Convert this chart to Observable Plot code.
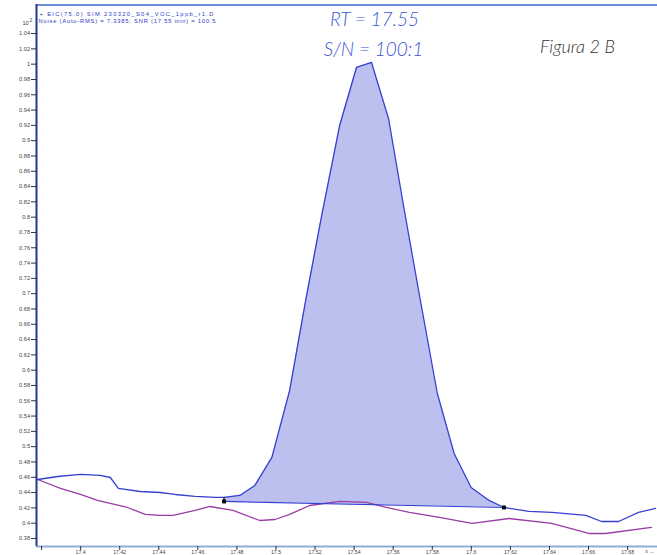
<!DOCTYPE html>
<html>
<head>
<meta charset="utf-8">
<script src="https://cdn.jsdelivr.net/npm/d3@7"></script>
<script src="https://cdn.jsdelivr.net/npm/@observablehq/plot@0.6"></script>
<style>
  html, body { margin: 0; padding: 0; background: #fff; }
  #chart { position: relative; width: 657px; height: 555px; overflow: hidden; }
  #chart svg { display: block; }
</style>
</head>
<body>
<div id="chart"></div>
<script>
// ---- data ----
const blueX = [17.378, 17.3882, 17.3999, 17.4101, 17.4152, 17.4193, 17.4305, 17.4407, 17.4484, 17.4586, 17.4688, 17.4734, 17.4815, 17.4892, 17.4979, 17.5070, 17.5152, 17.5234, 17.5326, 17.5412, 17.5489, 17.5576, 17.5657, 17.5739, 17.5826, 17.5912, 17.5999, 17.6091, 17.6167, 17.6295, 17.6412, 17.6586, 17.6667, 17.6754, 17.6856, 17.6943];
const blueY = [0.4571, 0.4610, 0.4637, 0.4624, 0.4597, 0.4454, 0.4414, 0.4401, 0.4375, 0.4349, 0.4336, 0.4336, 0.4362, 0.4493, 0.4859, 0.5735, 0.6911, 0.8022, 0.9199, 0.9957, 1.0022, 0.9290, 0.8088, 0.6911, 0.5695, 0.4911, 0.4467, 0.4297, 0.4205, 0.4153, 0.4140, 0.4101, 0.4022, 0.4022, 0.4140, 0.4192];
const purpleX = [17.378, 17.3897, 17.3999, 17.4086, 17.4239, 17.4331, 17.4407, 17.4473, 17.4586, 17.4662, 17.4780, 17.4917, 17.4994, 17.5070, 17.5172, 17.5326, 17.5463, 17.5565, 17.5683, 17.5836, 17.6004, 17.6193, 17.6412, 17.6601, 17.6688, 17.6922];
const purpleY = [0.4571, 0.4454, 0.4375, 0.4297, 0.4205, 0.4114, 0.4101, 0.4101, 0.4166, 0.4218, 0.4166, 0.4035, 0.4048, 0.4114, 0.4231, 0.4284, 0.4271, 0.4205, 0.4140, 0.4075, 0.3996, 0.4061, 0.3996, 0.3865, 0.3865, 0.3944];
const baselineX = [17.4734, 17.6167];
const baselineY = [0.4284, 0.4205];
const yTicks = [0.38,0.40,0.42,0.44,0.46,0.48,0.50,0.52,0.54,0.56,0.58,0.60,0.62,0.64,0.66,0.68,0.70,0.72,0.74,0.76,0.78,0.80,0.82,0.84,0.86,0.88,0.90,0.92,0.94,0.96,0.98,1.00,1.02,1.04];
const xTicks = [17.38,17.40,17.42,17.44,17.46,17.48,17.50,17.52,17.54,17.56,17.58,17.60,17.62,17.64,17.66,17.68];
const xTickLabels = ["","17.4","17.42","17.44","17.46","17.48","17.5","17.52","17.54","17.56","17.58","17.6","17.62","17.64","17.66","17.68"];
const headerLine1 = "+ EIC(75.0) SIM 230320_S04_VOC_1ppb_r1.D";
const headerLine2 = "Noise (Auto-RMS) = 7.3385; SNR (17.55 min) = 100.5";
const rtLabel = "RT = 17.55";
const snLabel = "S/N = 100:1";
const figLabel = "Figura 2 B";
const expBase = "10";
const expSup = "2";

// ---- derived tables ----
const blue = blueX.map((x, i) => ({x, y: blueY[i]}));
const purple = purpleX.map((x, i) => ({x, y: purpleY[i]}));
const base = baselineX.map((x, i) => ({x, y: baselineY[i]}));
const baseAt = x => baselineY[0] + (baselineY[1] - baselineY[0]) * (x - baselineX[0]) / (baselineX[1] - baselineX[0]);
const peak = blue.filter(d => d.x >= baselineX[0] - 1e-9 && d.x <= baselineX[1] + 1e-9).map(d => ({x: d.x, y1: baseAt(d.x), y2: d.y}));
const xDomain = [17.3774, 17.6953];
const yDomain = [0.3695, 1.078];
const labelMap = new Map(xTicks.map((t, i) => [t, xTickLabels[i]]));
const leftTickTop = blueY[blueX.indexOf(baselineX[0])];

const BLUE = "#3540d2";
const FILL = "#bcc0ee";
const PURPLE = "#9a3ca6";
const ANNOT = "#3b55d4";
const annFont = "Lato, 'Open Sans', sans-serif";

const chart = Plot.plot({
  width: 657,
  height: 555,
  marginLeft: 36,
  marginRight: 0,
  marginTop: 4,
  marginBottom: 9,
  style: {fontFamily: "'Liberation Sans', Arial, sans-serif", background: "#fff", overflow: "visible"},
  x: {domain: xDomain, axis: null},
  y: {domain: yDomain, axis: null},
  marks: [
    Plot.areaY(peak, {x: "x", y1: "y1", y2: "y2", fill: FILL, fillOpacity: 1}),
    Plot.line(purple, {x: "x", y: "y", stroke: PURPLE, strokeWidth: 1.3}),
    Plot.line(base, {x: "x", y: "y", stroke: BLUE, strokeWidth: 1.2}),
    Plot.line(blue, {x: "x", y: "y", stroke: BLUE, strokeWidth: 1.3}),
    Plot.ruleX([base[0]], {x: "x", y1: "y", y2: () => leftTickTop, stroke: "#000", strokeWidth: 1}),
    Plot.dot(base, {x: "x", y: "y", symbol: "square", r: 2.2, fill: "#000", stroke: "none"}),
    // frame lines
    Plot.ruleY([yDomain[1]], {stroke: "#3b6bd0", strokeWidth: 1.5, dy: 0.5}),
    Plot.ruleY([yDomain[0]], {stroke: "#8eadd9", strokeWidth: 2}),
    Plot.ruleX([xDomain[0]], {stroke: "#1d3a8f", strokeWidth: 2}),
    // axes
    Plot.axisY({ticks: yTicks, tickSize: 5, tickPadding: 1.5, fontSize: 5.6, tickFormat: d => d3.format("~g")(+d.toFixed(2)), stroke: "#333", color: "#444", anchor: "left"}),
    Plot.axisX({ticks: xTicks, tickSize: 4, tickPadding: 0, fontSize: 5.2, tickFormat: d => labelMap.get(+d.toFixed(2)) ?? "", stroke: "#333", color: "#444", anchor: "bottom"}),
    // header text
    Plot.text([headerLine1], {frameAnchor: "top-left", dx: 3, dy: 7.5, textAnchor: "start", fontSize: 5.8, fill: "#2e3bc4", className: "hdr1"}),
    Plot.text([headerLine2], {frameAnchor: "top-left", dx: 2, dy: 14, textAnchor: "start", fontSize: 5.8, fill: "#2e3bc4", className: "hdr2"}),
    Plot.text([expBase], {frameAnchor: "top-left", dx: -14, dy: 17, textAnchor: "start", fontSize: 5.6, fill: "#444"}),
    Plot.text([expSup], {frameAnchor: "top-left", dx: -7, dy: 13.5, textAnchor: "start", fontSize: 5, fill: "#444"}),
    // annotations
    Plot.text([rtLabel], {frameAnchor: "top-left", dx: 338, dy: 8, textAnchor: "middle", fontSize: 19, fontStyle: "italic", fontWeight: 300, fontFamily: annFont, fill: ANNOT}),
    Plot.text([snLabel], {frameAnchor: "top-left", dx: 337, dy: 38, textAnchor: "middle", fontSize: 19, fontStyle: "italic", fontWeight: 300, fontFamily: annFont, fill: ANNOT}),
    Plot.text([figLabel], {frameAnchor: "top-left", dx: 541, dy: 36, textAnchor: "middle", fontSize: 18, fontStyle: "italic", fontWeight: 300, fontFamily: annFont, fill: "#333"})
  ]
});
document.getElementById("chart").appendChild(chart);

// stretch the tiny header lines to the widths seen in the reference
d3.select(chart).select(".hdr1 text").attr("textLength", 174).attr("lengthAdjust", "spacing");
d3.select(chart).select(".hdr2 text").attr("textLength", 177).attr("lengthAdjust", "spacing");
</script>
</body>
</html>
